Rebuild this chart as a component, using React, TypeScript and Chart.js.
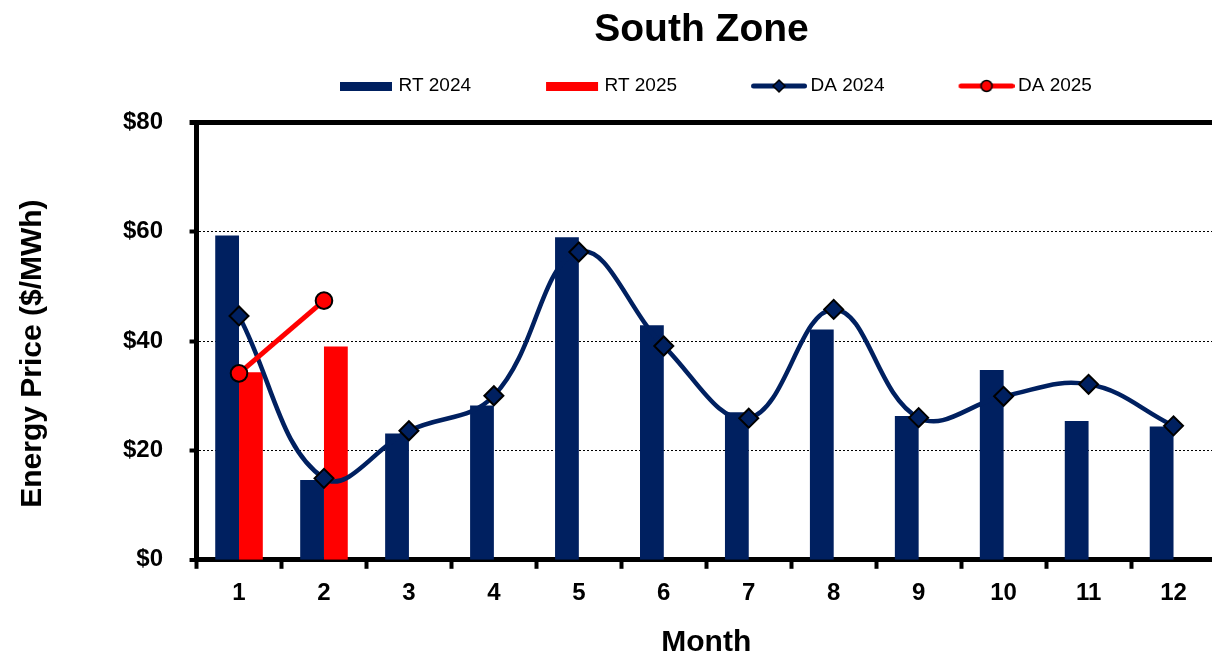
import React, { useEffect, useRef } from 'react';
import { Chart, registerables } from 'chart.js';

Chart.register(...registerables);

// Monthly energy prices, South Zone ($/MWh)
const months = ['1', '2', '3', '4', '5', '6', '7', '8', '9', '10', '11', '12'];
const rt2024 = [59.3, 14.6, 23.1, 28.2, 59.0, 42.9, 27.0, 42.1, 26.3, 34.7, 25.4, 24.4];
const rt2025 = [34.3, 39.0, null, null, null, null, null, null, null, null, null, null];
const da2024 = [44.6, 14.9, 23.6, 30.0, 56.3, 39.1, 25.9, 45.8, 26.0, 29.9, 32.1, 24.5];
const da2025 = [34.1, 47.4, null, null, null, null, null, null, null, null, null, null];
const seriesNames = ['RT 2024', 'RT 2025', 'DA 2024', 'DA 2025'];
const yMin = 0;
const yMax = 80;
const yStep = 20;

const NAVY = '#002060';
const RED = '#FF0000';
const FONT = "'Liberation Sans', Arial, Helvetica, sans-serif";

// Visible page size; the canvas runs a few pixels past the right edge so the
// last month keeps a full-width slot.
const W = 1212;
const H = 665;
const CANVAS_W = 1216;

// Legend swatches: a block for the bar series, a line with its marker for the line series
const ICON_W = 126;
const ICON_H = 20;

function makeIcon(draw: (g: CanvasRenderingContext2D) => void): HTMLCanvasElement {
  const c = document.createElement('canvas');
  c.width = ICON_W;
  c.height = ICON_H;
  const g = c.getContext('2d') as CanvasRenderingContext2D;
  draw(g);
  return c;
}

function barIcon(color: string) {
  return makeIcon((g) => {
    g.fillStyle = color;
    g.fillRect(71, 6, 52, 9);
  });
}

function lineIcon(color: string, marker: 'diamond' | 'circle') {
  return makeIcon((g) => {
    g.strokeStyle = color;
    g.lineWidth = 5;
    g.lineCap = 'round';
    g.beginPath();
    g.moveTo(72.5, 10);
    g.lineTo(123.5, 10);
    g.stroke();
    g.beginPath();
    if (marker === 'diamond') {
      g.moveTo(92, 10);
      g.lineTo(98, 4);
      g.lineTo(104, 10);
      g.lineTo(98, 16);
      g.closePath();
    } else {
      g.arc(98, 10, 5.5, 0, Math.PI * 2);
    }
    g.fillStyle = color;
    g.fill();
    g.lineWidth = 1.5;
    g.strokeStyle = '#000';
    g.stroke();
  });
}

// Centres the title and legend over the plot rather than the whole canvas
const headerPlacement = {
  id: 'headerPlacement',
  afterLayout(chart: any) {
    const t = chart.titleBlock;
    if (t) {
      const dx = 701.5 - (t.left + t.right) / 2;
      t.left += dx;
      t.right += dx;
    }
    const l = chart.legend;
    if (l && l.lineWidths) {
      const pad = l.options.labels.padding;
      const start = (l.left + pad + l.right - l.lineWidths[0]) / 2;
      const dx = 275 - start;
      const dy = 66.5 - l.top;
      l.left += dx;
      l.right += dx;
      l.top += dy;
      l.bottom += dy;
    }
  },
};

export default function App() {
  const canvasRef = useRef<HTMLCanvasElement | null>(null);

  useEffect(() => {
    const canvas = canvasRef.current;
    if (!canvas) return;

    const icons = [barIcon(NAVY), barIcon(RED), lineIcon(NAVY, 'diamond'), lineIcon(RED, 'circle')];

    Chart.defaults.font.family = FONT;
    Chart.defaults.color = '#000';

    const chart = new Chart(canvas, {
      type: 'bar',
      data: {
        labels: months,
        datasets: [
          {
            type: 'bar',
            label: seriesNames[0],
            data: rt2024,
            backgroundColor: NAVY,
            borderWidth: 0,
            barPercentage: 1,
            categoryPercentage: 0.56,
            order: 2,
          },
          {
            type: 'bar',
            label: seriesNames[1],
            data: rt2025,
            backgroundColor: RED,
            borderWidth: 0,
            barPercentage: 1,
            categoryPercentage: 0.56,
            order: 2,
          },
          {
            type: 'line',
            label: seriesNames[2],
            data: da2024,
            borderColor: NAVY,
            borderWidth: 4.5,
            tension: 0.4,
            fill: false,
            pointStyle: 'rectRot',
            pointRadius: 9.5,
            pointBackgroundColor: NAVY,
            pointBorderColor: '#000',
            pointBorderWidth: 2,
            order: 1,
          },
          {
            type: 'line',
            label: seriesNames[3],
            data: da2025,
            borderColor: RED,
            borderWidth: 5,
            tension: 0,
            fill: false,
            pointStyle: 'circle',
            pointRadius: 8.3,
            pointBackgroundColor: RED,
            pointBorderColor: '#000',
            pointBorderWidth: 2,
            order: 0,
          },
        ],
      } as any,
      options: {
        responsive: false,
        animation: false,
        events: [],
        devicePixelRatio: 1,
        layout: { autoPadding: false, padding: 0 },
        plugins: {
          tooltip: { enabled: false },
          title: {
            display: true,
            text: 'South Zone',
            color: '#000',
            font: { family: FONT, size: 39, weight: 'bold' },
            padding: { top: 6.4, bottom: 30.2 },
          },
          legend: {
            display: true,
            position: 'top',
            align: 'center',
            labels: {
              usePointStyle: true,
              pointStyleWidth: 114,
              padding: 10,
              color: '#000',
              font: { family: FONT, size: 19 },
              generateLabels: (c: any) =>
                c.data.datasets.map((ds: any, i: number) => ({
                  text: ds.label,
                  pointStyle: icons[i],
                  fillStyle: 'rgba(0,0,0,0)',
                  strokeStyle: 'rgba(0,0,0,0)',
                  lineWidth: 0,
                  hidden: false,
                  datasetIndex: i,
                  fontColor: '#000',
                })),
            },
          },
        },
        scales: {
          x: {
            type: 'category',
            offset: true,
            grid: {
              display: true,
              offset: true,
              drawOnChartArea: false,
              drawTicks: true,
              tickLength: 9,
              tickWidth: 4,
              tickColor: '#000',
            },
            border: { display: true, color: '#000', width: 5 },
            ticks: {
              color: '#000',
              padding: 10.5,
              font: { family: FONT, size: 24, weight: 'bold' },
              maxRotation: 0,
            },
            title: {
              display: true,
              text: 'Month',
              color: '#000',
              font: { family: FONT, size: 30, weight: 'bold' },
              padding: { top: 6.4, bottom: 4 },
            },
          },
          y: {
            min: yMin,
            max: yMax,
            grid: {
              display: true,
              drawOnChartArea: true,
              drawTicks: true,
              color: '#000',
              lineWidth: (c: any) => (c.tick && c.tick.value === yMax ? 5 : c.tick && c.tick.value === yMin ? 0 : 1),
              tickLength: 7,
              tickWidth: (c: any) => (c.tick && c.tick.value === yMax ? 5 : 4),
              tickColor: '#000',
            },
            border: {
              display: true,
              color: '#000',
              width: 5,
              dash: (c: any) => (c.tick && c.tick.value !== yMax ? [2, 2] : []),
            },
            ticks: {
              stepSize: yStep,
              color: '#000',
              padding: 26.5,
              font: { family: FONT, size: 24, weight: 'bold' },
              callback: (v: any) => '$' + v,
            },
            title: {
              display: true,
              text: 'Energy Price ($/MWh)\u00A0\u00A0\u00A0',
              color: '#000',
              font: { family: FONT, size: 30, weight: 'bold' },
              padding: { top: 14.5, bottom: 46 },
            },
          },
        },
      } as any,
      plugins: [headerPlacement],
    });

    return () => chart.destroy();
  }, []);

  return (
    <div style={{ position: 'absolute', left: 0, top: 0, width: W, height: H, overflow: 'hidden', background: '#fff' }}>
      <canvas ref={canvasRef} width={CANVAS_W} height={H} style={{ display: 'block', width: CANVAS_W, height: H }} />
    </div>
  );
}
